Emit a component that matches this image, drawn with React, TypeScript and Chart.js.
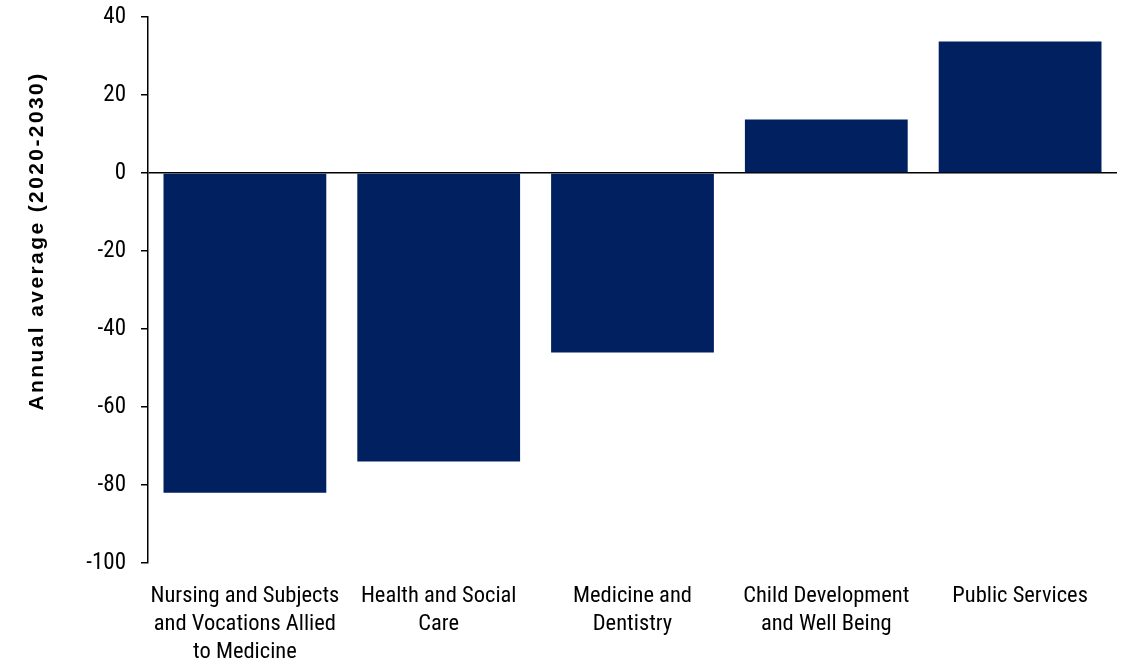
import React, { useEffect, useRef } from "react";
import { Chart, registerables } from "chart.js";

Chart.register(...registerables);

const categories: string[][] = [
  ["Nursing and Subjects", "and Vocations Allied", "to Medicine"],
  ["Health and Social", "Care"],
  ["Medicine and", "Dentistry"],
  ["Child Development", "and Well Being"],
  ["Public Services"],
];
const values: number[] = [-82, -74, -46, 13.7, 33.7];
const yTicks: number[] = [40, 20, 0, -20, -40, -60, -80, -100];
const yTitle = "Annual average (2020-2030)";

const NARROW = '"Liberation Sans Narrow", "Arial Narrow", "Roboto Condensed", sans-serif';

const titlePlugin = {
  id: "yTitle",
  afterDraw(chart: any) {
    const ctx = chart.ctx;
    ctx.save();
    ctx.translate(37, 241);
    ctx.rotate(-Math.PI / 2);
    ctx.font = 'bold 21px "Liberation Sans", Arial, sans-serif';
    (ctx as any).letterSpacing = "2.4px";
    ctx.fillStyle = "#000";
    ctx.textAlign = "center";
    ctx.textBaseline = "middle";
    ctx.fillText(yTitle, 0, 0);
    ctx.restore();
  },
};

export default function App() {
  const ref = useRef<HTMLCanvasElement>(null);
  useEffect(() => {
    const chart = new Chart(ref.current!, {
      type: "bar",
      data: {
        labels: categories,
        datasets: [
          {
            data: values,
            backgroundColor: "#002060",
            borderWidth: 0,
            categoryPercentage: 1,
            barPercentage: 0.84,
          },
        ],
      },
      options: {
        animation: false,
        responsive: true,
        maintainAspectRatio: false,
        layout: { padding: { left: 0, right: 16, top: 17, bottom: 0 } },
        plugins: { legend: { display: false }, tooltip: { enabled: false } },
        scales: {
          x: {
            grid: { display: false },
            border: { display: false },
            ticks: {
              color: "#000",
              font: { family: NARROW, size: 22.5, lineHeight: 1.25 },
              maxRotation: 0,
              autoSkip: false,
              padding: 11,
            },
            afterFit(scale: any) {
              scale.height = 101;
              scale.paddingLeft = 0;
              scale.paddingRight = 0;
            },
          },
          y: {
            min: -100,
            max: 40,
            afterBuildTicks(scale: any) {
              scale.ticks = yTicks.map((v) => ({ value: v }));
            },
            grid: {
              drawOnChartArea: true,
              color: (c: any) => (c.tick && c.tick.value === 0 ? "#000" : "rgba(0,0,0,0)"),
              tickColor: "#000",
              tickLength: 7,
              lineWidth: 1.5,
            },
            border: { display: true, color: "#000", width: 1.5 },
            ticks: {
              color: "#000",
              font: { family: NARROW, size: 23 },
              padding: 15,
            },
            afterFit(scale: any) {
              scale.width = 148;
              scale.paddingTop = 0;
              scale.paddingBottom = 0;
            },
          },
        },
      },
      plugins: [titlePlugin],
    });
    return () => chart.destroy();
  }, []);
  return (
    <div style={{ position: "fixed", left: 0, top: 0, width: 1133, height: 664, background: "#fff" }}>
      <canvas ref={ref} />
    </div>
  );
}
